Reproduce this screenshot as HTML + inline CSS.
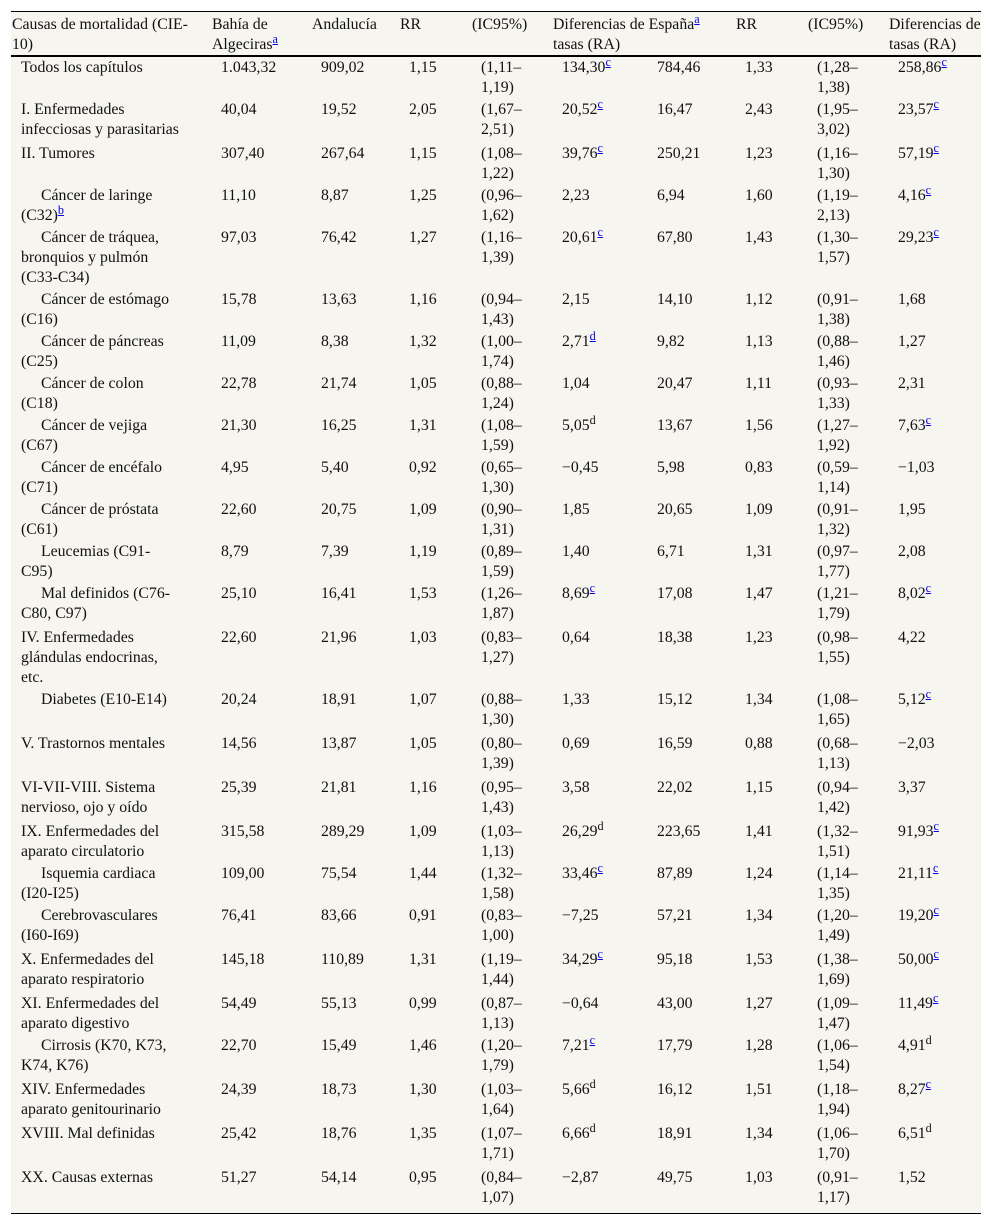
<!DOCTYPE html>
<html lang="es">
<head>
<meta charset="utf-8">
<title>Causas de mortalidad</title>
<style>
html,body{margin:0;padding:0;background:#fff;width:992px;height:1225px;overflow:hidden}
table{position:absolute;left:11px;top:11px;width:970px;table-layout:fixed;border-collapse:separate;border-spacing:0;background:#f7f5f0;font-family:"Liberation Serif",serif;font-size:15.8px;line-height:20px;color:#111;border-bottom:1px solid #000}
th{font-weight:normal;text-align:left;vertical-align:top;padding:3px 0 0 1px;height:39px;box-sizing:content-box;border-top:1px solid #000;border-bottom:2px solid #000;white-space:nowrap}
td{vertical-align:top;padding:1px 0 0 10px;white-space:nowrap}
td.ind{text-indent:20px}
sup{font-size:12.2px;line-height:0;vertical-align:baseline;position:relative;top:-6px}
a{color:#00e;text-decoration:underline}
</style>
</head>
<body>
<table>
<colgroup><col style="width:200px"><col style="width:100px"><col style="width:88px"><col style="width:72px"><col style="width:81px"><col style="width:95px"><col style="width:88px"><col style="width:72px"><col style="width:81px"><col style="width:93px"></colgroup>
<thead><tr>
<th>Causas de mortalidad (CIE-<br>10)</th>
<th>Bahía de<br>Algeciras<sup><a href="#a">a</a></sup></th>
<th>Andalucía</th>
<th>RR</th>
<th>(IC95%)</th>
<th colspan="2">Diferencias de España<sup><a href="#a">a</a></sup><br>tasas (RA)</th>
<th>RR</th>
<th>(IC95%)</th>
<th>Diferencias de<br>tasas (RA)</th>
</tr></thead>
<tbody>
<tr style="height:42px"><td>Todos los capítulos</td><td>1.043,32</td><td>909,02</td><td>1,15</td><td>(1,11–<br>1,19)</td><td>134,30<sup><a href="#c">c</a></sup></td><td>784,46</td><td>1,33</td><td>(1,28–<br>1,38)</td><td>258,86<sup><a href="#c">c</a></sup></td></tr>
<tr style="height:44px"><td>I. Enfermedades<br>infecciosas y parasitarias</td><td>40,04</td><td>19,52</td><td>2,05</td><td>(1,67–<br>2,51)</td><td>20,52<sup><a href="#c">c</a></sup></td><td>16,47</td><td>2,43</td><td>(1,95–<br>3,02)</td><td>23,57<sup><a href="#c">c</a></sup></td></tr>
<tr style="height:42px"><td>II. Tumores</td><td>307,40</td><td>267,64</td><td>1,15</td><td>(1,08–<br>1,22)</td><td>39,76<sup><a href="#c">c</a></sup></td><td>250,21</td><td>1,23</td><td>(1,16–<br>1,30)</td><td>57,19<sup><a href="#c">c</a></sup></td></tr>
<tr style="height:42px"><td class="ind">Cáncer de laringe<br>(C32)<sup><a href="#b">b</a></sup></td><td>11,10</td><td>8,87</td><td>1,25</td><td>(0,96–<br>1,62)</td><td>2,23</td><td>6,94</td><td>1,60</td><td>(1,19–<br>2,13)</td><td>4,16<sup><a href="#c">c</a></sup></td></tr>
<tr style="height:62px"><td class="ind">Cáncer de tráquea,<br>bronquios y pulmón<br>(C33-C34)</td><td>97,03</td><td>76,42</td><td>1,27</td><td>(1,16–<br>1,39)</td><td>20,61<sup><a href="#c">c</a></sup></td><td>67,80</td><td>1,43</td><td>(1,30–<br>1,57)</td><td>29,23<sup><a href="#c">c</a></sup></td></tr>
<tr style="height:42px"><td class="ind">Cáncer de estómago<br>(C16)</td><td>15,78</td><td>13,63</td><td>1,16</td><td>(0,94–<br>1,43)</td><td>2,15</td><td>14,10</td><td>1,12</td><td>(0,91–<br>1,38)</td><td>1,68</td></tr>
<tr style="height:42px"><td class="ind">Cáncer de páncreas<br>(C25)</td><td>11,09</td><td>8,38</td><td>1,32</td><td>(1,00–<br>1,74)</td><td>2,71<sup><a href="#d">d</a></sup></td><td>9,82</td><td>1,13</td><td>(0,88–<br>1,46)</td><td>1,27</td></tr>
<tr style="height:42px"><td class="ind">Cáncer de colon<br>(C18)</td><td>22,78</td><td>21,74</td><td>1,05</td><td>(0,88–<br>1,24)</td><td>1,04</td><td>20,47</td><td>1,11</td><td>(0,93–<br>1,33)</td><td>2,31</td></tr>
<tr style="height:42px"><td class="ind">Cáncer de vejiga<br>(C67)</td><td>21,30</td><td>16,25</td><td>1,31</td><td>(1,08–<br>1,59)</td><td>5,05<sup>d</sup></td><td>13,67</td><td>1,56</td><td>(1,27–<br>1,92)</td><td>7,63<sup><a href="#c">c</a></sup></td></tr>
<tr style="height:42px"><td class="ind">Cáncer de encéfalo<br>(C71)</td><td>4,95</td><td>5,40</td><td>0,92</td><td>(0,65–<br>1,30)</td><td>−0,45</td><td>5,98</td><td>0,83</td><td>(0,59–<br>1,14)</td><td>−1,03</td></tr>
<tr style="height:42px"><td class="ind">Cáncer de próstata<br>(C61)</td><td>22,60</td><td>20,75</td><td>1,09</td><td>(0,90–<br>1,31)</td><td>1,85</td><td>20,65</td><td>1,09</td><td>(0,91–<br>1,32)</td><td>1,95</td></tr>
<tr style="height:42px"><td class="ind">Leucemias (C91-<br>C95)</td><td>8,79</td><td>7,39</td><td>1,19</td><td>(0,89–<br>1,59)</td><td>1,40</td><td>6,71</td><td>1,31</td><td>(0,97–<br>1,77)</td><td>2,08</td></tr>
<tr style="height:44px"><td class="ind">Mal definidos (C76-<br>C80, C97)</td><td>25,10</td><td>16,41</td><td>1,53</td><td>(1,26–<br>1,87)</td><td>8,69<sup><a href="#c">c</a></sup></td><td>17,08</td><td>1,47</td><td>(1,21–<br>1,79)</td><td>8,02<sup><a href="#c">c</a></sup></td></tr>
<tr style="height:62px"><td>IV. Enfermedades<br>glándulas endocrinas,<br>etc.</td><td>22,60</td><td>21,96</td><td>1,03</td><td>(0,83–<br>1,27)</td><td>0,64</td><td>18,38</td><td>1,23</td><td>(0,98–<br>1,55)</td><td>4,22</td></tr>
<tr style="height:44px"><td class="ind">Diabetes (E10-E14)</td><td>20,24</td><td>18,91</td><td>1,07</td><td>(0,88–<br>1,30)</td><td>1,33</td><td>15,12</td><td>1,34</td><td>(1,08–<br>1,65)</td><td>5,12<sup><a href="#c">c</a></sup></td></tr>
<tr style="height:44px"><td>V. Trastornos mentales</td><td>14,56</td><td>13,87</td><td>1,05</td><td>(0,80–<br>1,39)</td><td>0,69</td><td>16,59</td><td>0,88</td><td>(0,68–<br>1,13)</td><td>−2,03</td></tr>
<tr style="height:44px"><td>VI-VII-VIII. Sistema<br>nervioso, ojo y oído</td><td>25,39</td><td>21,81</td><td>1,16</td><td>(0,95–<br>1,43)</td><td>3,58</td><td>22,02</td><td>1,15</td><td>(0,94–<br>1,42)</td><td>3,37</td></tr>
<tr style="height:42px"><td>IX. Enfermedades del<br>aparato circulatorio</td><td>315,58</td><td>289,29</td><td>1,09</td><td>(1,03–<br>1,13)</td><td>26,29<sup>d</sup></td><td>223,65</td><td>1,41</td><td>(1,32–<br>1,51)</td><td>91,93<sup><a href="#c">c</a></sup></td></tr>
<tr style="height:42px"><td class="ind">Isquemia cardiaca<br>(I20-I25)</td><td>109,00</td><td>75,54</td><td>1,44</td><td>(1,32–<br>1,58)</td><td>33,46<sup><a href="#c">c</a></sup></td><td>87,89</td><td>1,24</td><td>(1,14–<br>1,35)</td><td>21,11<sup><a href="#c">c</a></sup></td></tr>
<tr style="height:44px"><td class="ind">Cerebrovasculares<br>(I60-I69)</td><td>76,41</td><td>83,66</td><td>0,91</td><td>(0,83–<br>1,00)</td><td>−7,25</td><td>57,21</td><td>1,34</td><td>(1,20–<br>1,49)</td><td>19,20<sup><a href="#c">c</a></sup></td></tr>
<tr style="height:44px"><td>X. Enfermedades del<br>aparato respiratorio</td><td>145,18</td><td>110,89</td><td>1,31</td><td>(1,19–<br>1,44)</td><td>34,29<sup><a href="#c">c</a></sup></td><td>95,18</td><td>1,53</td><td>(1,38–<br>1,69)</td><td>50,00<sup><a href="#c">c</a></sup></td></tr>
<tr style="height:42px"><td>XI. Enfermedades del<br>aparato digestivo</td><td>54,49</td><td>55,13</td><td>0,99</td><td>(0,87–<br>1,13)</td><td>−0,64</td><td>43,00</td><td>1,27</td><td>(1,09–<br>1,47)</td><td>11,49<sup><a href="#c">c</a></sup></td></tr>
<tr style="height:44px"><td class="ind">Cirrosis (K70, K73,<br>K74, K76)</td><td>22,70</td><td>15,49</td><td>1,46</td><td>(1,20–<br>1,79)</td><td>7,21<sup><a href="#c">c</a></sup></td><td>17,79</td><td>1,28</td><td>(1,06–<br>1,54)</td><td>4,91<sup>d</sup></td></tr>
<tr style="height:44px"><td>XIV. Enfermedades<br>aparato genitourinario</td><td>24,39</td><td>18,73</td><td>1,30</td><td>(1,03–<br>1,64)</td><td>5,66<sup>d</sup></td><td>16,12</td><td>1,51</td><td>(1,18–<br>1,94)</td><td>8,27<sup><a href="#c">c</a></sup></td></tr>
<tr style="height:44px"><td>XVIII. Mal definidas</td><td>25,42</td><td>18,76</td><td>1,35</td><td>(1,07–<br>1,71)</td><td>6,66<sup>d</sup></td><td>18,91</td><td>1,34</td><td>(1,06–<br>1,70)</td><td>6,51<sup>d</sup></td></tr>
<tr style="height:46px"><td>XX. Causas externas</td><td>51,27</td><td>54,14</td><td>0,95</td><td>(0,84–<br>1,07)</td><td>−2,87</td><td>49,75</td><td>1,03</td><td>(0,91–<br>1,17)</td><td>1,52</td></tr>
</tbody>
</table>
</body>
</html>
